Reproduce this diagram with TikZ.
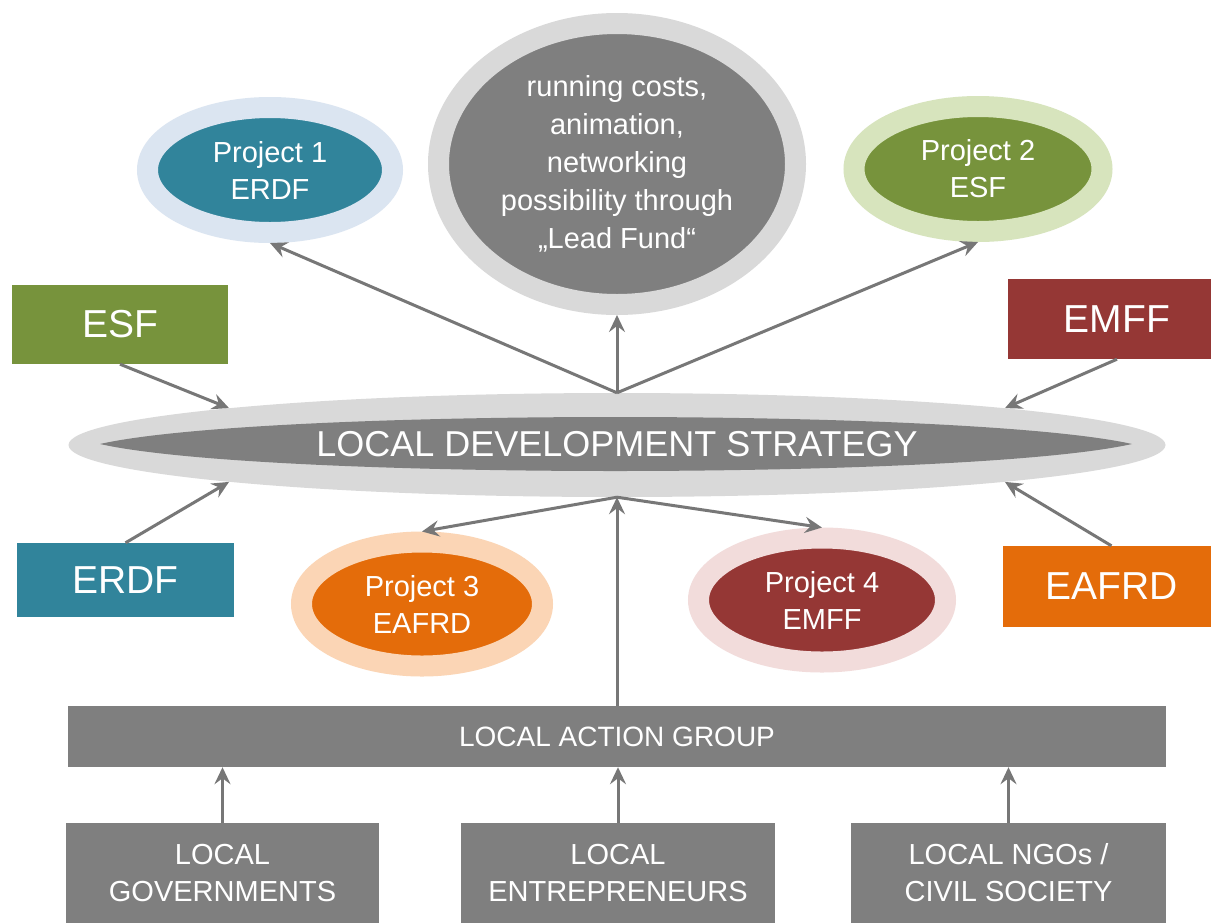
\documentclass[tikz,border=0pt]{standalone}
\usepackage{fontspec}
\setmainfont{Liberation Sans}
\usetikzlibrary{arrows.meta,shapes.geometric,calc}
\definecolor{dgrey}{HTML}{7F7F7F}
\definecolor{agrey}{HTML}{777777}
\definecolor{lgrey}{HTML}{D9D9D9}
\definecolor{cgreen}{HTML}{77933C}
\definecolor{cteal}{HTML}{31849B}
\definecolor{cred}{HTML}{953735}
\definecolor{corange}{HTML}{E46C0A}
\definecolor{rblue}{HTML}{DBE5F1}
\definecolor{rgreen}{HTML}{D7E4BD}
\definecolor{rorange}{HTML}{FBD5B5}
\definecolor{rpink}{HTML}{F2DCDB}
\begin{document}
\begin{tikzpicture}[x=1pt,y=-1pt,
  fundbox/.style={rectangle, inner sep=0pt, text=white, font=\fontsize{39}{44}\selectfont},
  proj/.style={ellipse, inner sep=0pt, line width=21pt, minimum height=125pt, text=white, align=center, font=\fontsize{29}{37}\selectfont},
  greybox/.style={rectangle, fill=dgrey, inner sep=0pt, text=white, align=center, font=\fontsize{29}{37}\selectfont},
  arr/.style={draw=agrey, line width=3pt, -{Stealth[length=17pt,width=16pt,inset=6pt]}}]
\useasboundingbox (0,0) rectangle (1211,922);
\fill[white] (0,0) rectangle (1211,922);

% funds
\node[fundbox, fill=cgreen, minimum width=216pt, minimum height=79pt] (esf) at (120,324.5) {ESF};
\node[fundbox, fill=cteal, minimum width=217pt, minimum height=74pt] (erdf) at (125.5,580) {ERDF};
\node[fundbox, fill=cred, minimum width=218pt, minimum height=80pt] (emff) at (1117,319) {EMFF};
\node[fundbox, fill=corange, minimum width=217pt, minimum height=81pt] (eafrd) at (1111.5,586.5) {EAFRD};

% local development strategy
\node[ellipse, fill=lgrey, minimum width=1097pt, minimum height=104pt, inner sep=0pt] (lds) at (617,445) {};
\fill[dgrey] (100,444) .. controls (260,408) and (970,408) .. (1132,444)
  .. controls (970,480) and (260,480) .. (100,444) -- cycle;
\node[text=white, font=\fontsize{36}{40}\selectfont] (ldstext) at (617,444) {LOCAL DEVELOPMENT STRATEGY};

% lead fund
\node[ellipse, fill=dgrey, draw=lgrey, line width=21pt, minimum width=357pt, minimum height=281pt, inner sep=0pt, text=white, align=center, font=\fontsize{29}{38}\selectfont] (lead) at (617,164)
  {running costs,\\animation,\\networking\\possibility through\\„Lead Fund“};

% projects
\node[proj, draw=rblue, fill=cteal, minimum width=245pt] (p1) at (270,170) {Project 1\\ERDF};
\node[proj, draw=rgreen, fill=cgreen, minimum width=248pt] (p2) at (978,169) {Project 2\\ESF};
\node[proj, draw=rorange, fill=corange, minimum width=241pt, minimum height=124pt] (p3) at (422,604) {Project 3\\EAFRD};
\node[proj, draw=rpink, fill=cred, minimum width=247pt, minimum height=124pt] (p4) at (822,600) {Project 4\\EMFF};

% local action group and members
\node[greybox, minimum width=1098pt, minimum height=61pt, font=\fontsize{28}{34}\selectfont] (lag) at (617,736.5) {LOCAL ACTION GROUP};
\node[greybox, minimum width=313pt, minimum height=100pt] (gov) at (222.5,873) {LOCAL\\GOVERNMENTS};
\node[greybox, minimum width=314pt, minimum height=100pt] (ent) at (618,873) {LOCAL\\ENTREPRENEURS};
\node[greybox, minimum width=315pt, minimum height=100pt] (ngo) at (1008.5,873) {LOCAL NGOs /\\CIVIL SOCIETY};

% connectors
\draw[arr] (esf.south) -- (lds.north west);
\draw[arr] (erdf.north) -- (lds.south west);
\draw[arr] (emff.south) -- (lds.north east);
\draw[arr] (eafrd.north) -- (lds.south east);
\draw[arr] (lds.north) -- (p1.south);
\draw[arr] (lds.north) -- (lead.south);
\draw[arr] (lds.north) -- (p2.south);
\draw[arr] (lds.south) -- (p3.north);
\draw[arr] (lds.south) -- (p4.north);
\draw[arr] (lag.north) -- (lds.south);
\draw[arr] (gov.north) -- (gov.north |- lag.south);
\draw[arr] (ent.north) -- (ent.north |- lag.south);
\draw[arr] (ngo.north) -- (ngo.north |- lag.south);
\end{tikzpicture}
\end{document}
